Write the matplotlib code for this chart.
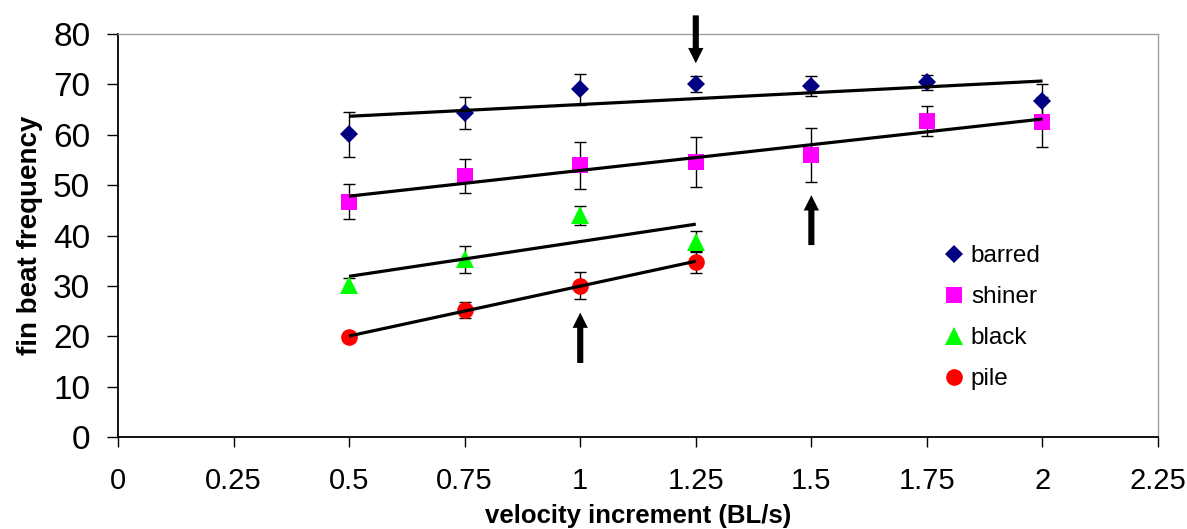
import numpy as np
import matplotlib
matplotlib.use("Agg")
import matplotlib.pyplot as plt
from matplotlib.lines import Line2D

plt.rcParams['font.family'] = ['Liberation Sans', 'DejaVu Sans']

# velocity increments (BL/s)
x_long = [0.5, 0.75, 1.0, 1.25, 1.5, 1.75, 2.0]
x_short = [0.5, 0.75, 1.0, 1.25]

# mean fin beat frequency and error per species
barred = [60.1, 64.3, 69.0, 70.0, 69.7, 70.4, 66.7]
barred_err = [4.5, 3.1, 3.0, 1.6, 2.0, 1.5, 3.3]
shiner = [46.7, 51.8, 53.9, 54.6, 56.0, 62.8, 62.5]
shiner_err = [3.5, 3.4, 4.6, 4.9, 5.4, 3.0, 5.0]
black = [30.2, 35.3, 44.0, 38.8]
black_err = [1.3, 2.7, 1.9, 2.0]
pile = [19.9, 25.2, 30.0, 34.8]
pile_err = [1.0, 1.6, 2.7, 2.2]

# arrows marking notable increments: x, tail value, tip value
arrow_x = [1.25, 1.5, 1.0]
arrow_tail = [83.7, 38.1, 14.7]
arrow_tip = [74.2, 48.0, 24.7]

x_ticks = [0, 0.25, 0.5, 0.75, 1, 1.25, 1.5, 1.75, 2, 2.25]
x_tick_labels = ['0', '0.25', '0.5', '0.75', '1', '1.25', '1.5', '1.75', '2', '2.25']
y_ticks = [0, 10, 20, 30, 40, 50, 60, 70, 80]

series = [
    ('barred', x_long, barred, barred_err, 'D', '#000080', 9.2),
    ('shiner', x_long, shiner, shiner_err, 's', '#FF00FF', 12.2),
    ('black', x_short, black, black_err, '^', '#00FF00', 12.5),
    ('pile', x_short, pile, pile_err, 'o', '#FF0000', 12.0),
]

fig = plt.figure(figsize=(11.87, 5.29), dpi=100)
ax = fig.add_axes([0.0994, 0.1739, 0.8762, 0.7618])

handles = []
for name, xs, ys, es, mk, col, ms in series:
    ax.errorbar(xs, ys, yerr=es, fmt='none', ecolor='black', elinewidth=1.0,
                capsize=4.3, capthick=1.0, zorder=2)
    ax.plot(xs, ys, linestyle='none', marker=mk, color=col, markersize=ms,
            markeredgewidth=0, zorder=3)
    # linear trend line over the measured range
    k, b = np.polyfit(xs, ys, 1)
    xl = np.array([xs[0], xs[-1]])
    ax.plot(xl, k * xl + b, color='black', linewidth=2.3, zorder=4,
            solid_capstyle='butt')
    handles.append(Line2D([], [], linestyle='none', marker=mk, color=col,
                          markersize=ms, markeredgewidth=0, label=name))

for xa, yt, yh in zip(arrow_x, arrow_tail, arrow_tip):
    ax.annotate('', xy=(xa, yh), xytext=(xa, yt), xycoords='data',
                annotation_clip=False,
                arrowprops=dict(arrowstyle='simple,head_length=0.55,head_width=0.55,tail_width=0.22',
                                mutation_scale=20, shrinkA=0, shrinkB=0,
                                fc='black', ec='none'), zorder=5)

ax.set_xlim(0, 2.25)
ax.set_ylim(0, 80)
ax.set_xticks(x_ticks)
ax.set_xticklabels(x_tick_labels)
ax.set_yticks(y_ticks)
ax.tick_params(axis='x', direction='out', length=7, width=1, pad=14.5, labelsize=21)
ax.tick_params(axis='y', direction='out', length=8, width=1, pad=12, labelsize=24)

for side in ('left', 'bottom'):
    ax.spines[side].set_color('black')
    ax.spines[side].set_linewidth(1.3)
for side in ('top', 'right'):
    ax.spines[side].set_color('#A0A0A0')
    ax.spines[side].set_linewidth(1.0)

ax.set_xlabel('velocity increment (BL/s)', fontsize=18.5, fontweight='bold')
ax.xaxis.label.set_verticalalignment('baseline')
ax.xaxis.set_label_coords(0.5, -0.2134)
ax.set_ylabel('fin beat frequency', fontsize=20, fontweight='bold', labelpad=7)

ax.legend(handles=handles, loc='upper left', bbox_to_anchor=(0.785, 0.50),
          frameon=False, fontsize=17.5, handlelength=0.8, handletextpad=0.3,
          labelspacing=0.78, borderaxespad=0)

fig.savefig('out.png', dpi=100)
